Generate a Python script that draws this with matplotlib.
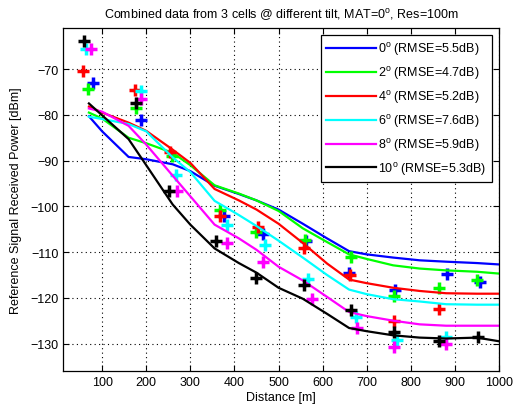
import matplotlib
matplotlib.use("Agg")
import matplotlib.pyplot as plt

plt.rcParams['font.family'] = ['Liberation Sans', 'DejaVu Sans']
plt.rcParams['mathtext.default'] = 'regular'

# model curves (common distance grid)
dist = [70, 100, 160, 200, 260, 300, 355, 410, 450, 500, 555, 610, 660, 700, 760, 820, 880, 950, 1000]
model_0 = [-80.3, -83.6, -89.2, -89.7, -90.8, -92.3, -95.5, -97.3, -98.7, -100.7, -103.8, -107.0, -109.8, -110.5, -111.2, -111.8, -112.1, -112.4, -112.7]
model_2 = [-79.5, -80.8, -85.0, -86.2, -88.3, -91.0, -95.4, -97.2, -98.7, -101.0, -104.8, -107.8, -110.5, -111.5, -112.9, -113.6, -114.0, -114.3, -114.7]
model_4 = [-78.2, -79.5, -81.7, -83.5, -87.6, -90.5, -96.2, -98.7, -100.7, -103.8, -108.0, -112.5, -116.0, -116.8, -117.8, -118.5, -119.0, -119.1, -119.1]
model_6 = [-80.4, -80.9, -82.0, -83.6, -89.3, -92.5, -98.8, -101.9, -104.3, -107.5, -111.2, -115.0, -118.2, -119.2, -120.3, -120.8, -121.4, -121.5, -121.5]
model_8 = [-78.6, -79.3, -82.4, -86.5, -93.3, -97.8, -104.0, -107.0, -109.5, -113.2, -116.2, -119.8, -123.1, -124.0, -125.0, -125.8, -126.1, -126.1, -126.1]
model_10 = [-77.5, -80.1, -85.3, -91.0, -99.6, -104.0, -109.2, -112.4, -114.5, -117.8, -120.2, -123.5, -126.6, -127.3, -128.2, -128.7, -128.9, -128.7, -129.5]

# measured points
meas_x_0 = [80, 187, 376, 464, 563, 660, 764, 881, 958]
meas_y_0 = [-73.1, -81.2, -102.1, -106.1, -107.6, -114.5, -118.3, -114.7, -116.5]
meas_x_2 = [68, 176, 258, 367, 449, 560, 664, 761, 864, 950]
meas_y_2 = [-74.4, -78.4, -89.0, -100.8, -105.6, -107.4, -111.0, -119.7, -117.8, -116.2]
meas_x_4 = [56, 174, 255, 368, 454, 558, 662, 761, 864]
meas_y_4 = [-70.4, -74.6, -88.1, -102.1, -104.5, -109.0, -115.1, -125.1, -122.4]
meas_x_6 = [63, 189, 267, 384, 469, 566, 676, 768, 879]
meas_y_6 = [-65.7, -74.8, -93.2, -104.1, -108.5, -115.8, -124.3, -129.3, -128.6]
meas_x_8 = [74, 189, 269, 384, 464, 575, 677, 761, 879]
meas_y_8 = [-65.7, -76.6, -96.7, -108.0, -112.1, -120.2, -126.7, -130.7, -130.2]
meas_x_10 = [59, 176, 252, 359, 449, 558, 664, 761, 864, 953]
meas_y_10 = [-63.9, -77.5, -96.7, -107.6, -115.6, -117.3, -122.7, -127.5, -129.5, -128.6]

tilts = ['0', '2', '4', '6', '8', '10']
rmse = ['5.5', '4.7', '5.2', '7.6', '5.9', '5.3']
colors = ['#0000ff', '#00ff00', '#ff0000', '#00ffff', '#ff00ff', '#000000']
models = [model_0, model_2, model_4, model_6, model_8, model_10]
mx = [meas_x_0, meas_x_2, meas_x_4, meas_x_6, meas_x_8, meas_x_10]
my = [meas_y_0, meas_y_2, meas_y_4, meas_y_6, meas_y_8, meas_y_10]

fig = plt.figure(figsize=(5.17, 4.10), dpi=100)
ax = fig.add_axes([0.1225, 0.0927, 0.8427, 0.8366])

handles = []
for t, r, c, m, x, y in zip(tilts, rmse, colors, models, mx, my):
    h, = ax.plot(dist, m, color=c, lw=1.6, label=t + '$^{o}$ (RMSE=' + r + 'dB)')
    handles.append(h)
    ax.plot(x, y, linestyle='none', marker='+', color=c, ms=8, mew=2.5)

ax.set_xlim(12, 1000)
ax.set_ylim(-136, -61)
ax.set_xticks(range(100, 1001, 100))
ax.set_yticks(range(-130, -69, 10))
ax.grid(True, color='black', linestyle=(0, (1, 3)), linewidth=0.8)
ax.tick_params(direction='in', labelsize=9, length=4, top=True, right=True)
for s in ax.spines.values():
    s.set_linewidth(0.9)

ax.set_xlabel('Distance [m]', fontsize=9, labelpad=2)
ax.set_ylabel('Reference Signal Received Power [dBm]', fontsize=9, labelpad=6)
ax.set_title('Combined data from 3 cells @ different tilt, MAT=0$^{o}$, Res=100m', fontsize=9, pad=7)

leg = ax.legend(handles=handles, loc='upper right', fontsize=9, fancybox=False,
                edgecolor='black', framealpha=1, borderaxespad=0.6,
                handlelength=4.0, labelspacing=0.55, borderpad=0.4, handletextpad=0.2)
leg.get_frame().set_linewidth(0.9)

fig.savefig('out.png', dpi=100)
